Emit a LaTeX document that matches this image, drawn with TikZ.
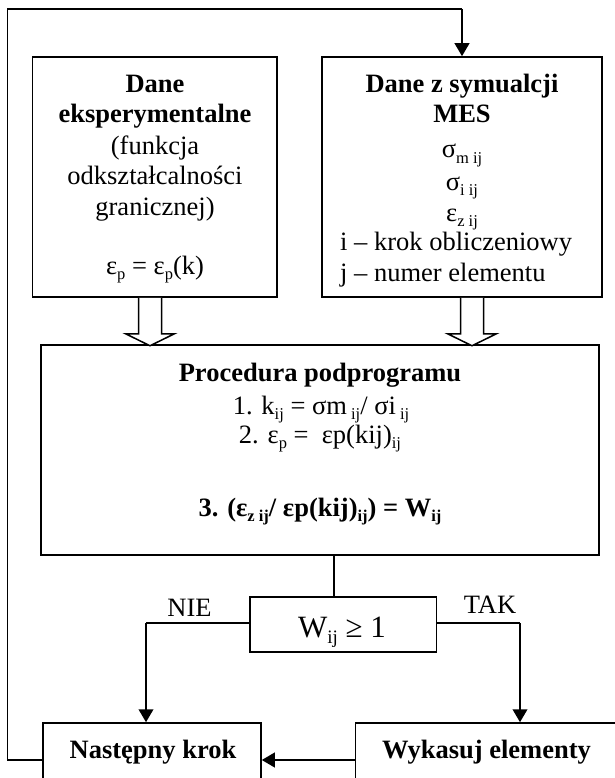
\documentclass[tikz,border=0pt]{standalone}
\usepackage{fontspec}
\setmainfont{Liberation Serif}
\usetikzlibrary{arrows.meta,calc}

% lowered, smaller index text
\newcommand\lowsub[2][16.5]{\raisebox{-0.2em}{\fontsize{#1}{#1}\selectfont #2}}

\begin{document}
\begin{tikzpicture}[x=1pt,y=-1pt,
  box/.style={draw, line width=1.5pt, inner sep=0pt},
  txt/.style={inner sep=0pt, anchor=base, font=\fontsize{26.5}{30}\selectfont},
  thinline/.style={line width=1.5pt},
  boldline/.style={line width=2.3pt},
  tip/.style={-{Triangle[length=13pt,width=14.5pt]}},
  hollow/.style={line width=1.5pt, fill=white}
]
\useasboundingbox (0,0) rectangle (614,778);

% boxes
\node[box, minimum width=244.5pt, minimum height=240pt] (exp) at (154.75,177) {};
\node[box, minimum width=280pt,   minimum height=240pt] (mes) at (462,177) {};
\node[box, minimum width=558pt,   minimum height=210pt] (proc) at (320,450) {};
\node[box, minimum width=186.6pt, minimum height=55pt]  (dec) at (343.3,624.5) {};
\node[box, minimum width=218pt,   minimum height=57pt]  (next) at (152,751.5) {};
\node[box, minimum width=262.5pt, minimum height=57pt]  (del) at (486.75,751.5) {};

% experimental data
\node[txt] (e1) at (155,93)  {\textbf{Dane}};
\node[txt] (e2) at (155,123) {\textbf{eksperymentalne}};
\node[txt] (e3) at (155,155) {(funkcja};
\node[txt] (e4) at (155,184) {odkształcalności};
\node[txt] (e5) at (155,215) {granicznej)};
\node[txt] (e6) at (155,274) {ε\lowsub{p} = ε\lowsub{p}(k)};

% FEM simulation data
\node[txt] (m1) at (462,93)  {\textbf{Dane z symualcji}};
\node[txt] (m2) at (462,123) {\textbf{MES}};
\node[txt] (m3) at (462,158) {σ\lowsub{m ij}};
\node[txt] (m4) at (462,190) {σ\lowsub{i ij}};
\node[txt] (m5) at (462,221) {ε\lowsub{z ij}};
\node[txt, anchor=base west] (m6) at (340,250) {i – krok obliczeniowy};
\node[txt, anchor=base west] (m7) at (340,281) {j – numer elementu};

% subroutine procedure
\node[txt] (p1) at (320,381) {\textbf{Procedura podprogramu}};
\node[txt] (p2) at (321,414) {1. k\lowsub{ij} = σm\lowsub{~ij}/ σi\lowsub{~ij}};
\node[txt] (p3) at (320,443) {2. ε\lowsub{p} = ~εp(kij)\lowsub{ij}};
\node[txt] (p4) at (320,516) {\textbf{3. (ε\lowsub{z ij}/ εp(kij)\lowsub{ij}) = W\lowsub{ij}}};

% decision and results
\node[txt, font=\fontsize{31}{34}\selectfont] (dt) at (342,637) {W\lowsub[19]{ij} ≥ 1};
\node[txt] (nie) at (189.5,616) {NIE};
\node[txt] (tak) at (490,613) {TAK};
\node[txt] (nt) at (153,758) {\textbf{Następny krok}};
\node[txt] (dt2) at (486.5,758) {\textbf{Wykasuj elementy}};

% hollow block arrows into the procedure box
\coordinate (ha) at (150,0);
\coordinate (hb) at (472,0);
\draw[hollow] (exp.south -| ha) ++(-11.5,0) -- ++(0,36) -- ++(-13,0) -- ++(24.5,12)
  -- ++(24.5,-12) -- ++(-13,0) -- ++(0,-36);
\draw[hollow] (mes.south -| hb) ++(-11.5,0) -- ++(0,36) -- ++(-13,0) -- ++(24.5,12)
  -- ++(24.5,-12) -- ++(-13,0) -- ++(0,-36);

% procedure to decision
\coordinate (vx) at (334,0);
\draw[thinline] (proc.south -| vx) -- (dec.north -| vx);

% NIE / TAK branches
\coordinate (nieC) at (146,623);
\coordinate (takC) at (520,623);
\draw[thinline] (dec.west |- nieC) -- (nieC);
\draw[boldline,tip] (nieC) -- (next.north -| nieC);
\draw[thinline] (dec.east |- takC) -- (takC);
\draw[boldline,tip] (takC) -- (del.north -| takC);

% delete elements -> next step
\coordinate (bot) at (0,760);
\draw[boldline,tip] (del.west |- bot) -- (next.east |- bot);

% loop back to the simulation data
\coordinate (lx) at (7.5,9);
\coordinate (topx) at (462,9);
\draw[thinline] (next.west |- bot) -- (lx |- bot) -- (lx) -- (topx);
\draw[boldline,tip] (topx) -- (mes.north -| topx);
\end{tikzpicture}
\end{document}
